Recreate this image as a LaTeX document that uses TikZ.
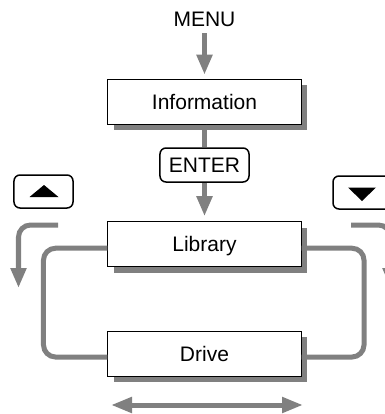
\documentclass[tikz,border=0pt]{standalone}
\usepackage{fontspec}
\setmainfont{Liberation Sans}
\usetikzlibrary{arrows.meta,shadows,calc}
\definecolor{lg}{HTML}{808080}
\tikzset{
  flow/.style={draw=lg, line width=5bp},
  tip/.style={-{Triangle[length=20bp,width=15bp]}},
  lbl/.style={inner sep=0pt, text height=15bp, text depth=0pt, font=\fontsize{21bp}{25bp}\selectfont},
  menubox/.style={lbl, draw=black, line width=1bp, fill=white, minimum width=193bp, minimum height=45bp,
    drop shadow={shadow xshift=6bp, shadow yshift=-6bp, fill=lg, opacity=1}},
  keybox/.style={lbl, draw=black, line width=1.5bp, rounded corners=6bp, fill=white},
}
\begin{document}
\begin{tikzpicture}[x=1bp,y=-1bp]
\useasboundingbox (0,0) rectangle (385,414);
% nodes
\node[lbl] (menu) at (204.5,18.5) {MENU};
\node[menubox] (info) at (204.5,101.7) {Information};
\node[keybox, minimum width=89bp, minimum height=34bp] (enter) at (204.5,165) {ENTER};
\node[menubox] (lib) at (204.5,244.2) {Library};
\node[menubox] (drive) at (204.5,353.5) {Drive};
\node[keybox, minimum width=59bp, minimum height=33bp] (upkey) at (43.5,191.5) {};
\node[keybox, minimum width=59bp, minimum height=33bp] (downkey) at (362.5,192.5) {};
% key glyphs
\fill ($(upkey.center)+(-14,5.5)$) -- ($(upkey.center)+(15,5.5)$) -- ($(upkey.center)+(0.5,-6.5)$) -- cycle;
\fill ($(downkey.center)+(-14.5,-5)$) -- ($(downkey.center)+(13.5,-5)$) -- ($(downkey.center)+(-0.5,8.5)$) -- cycle;
% main flow
\draw[flow,tip,shorten <=7bp,shorten >=4bp] (menu.south) -- (info.north);
\draw[flow] (info.south) -- (enter.north);
\draw[flow,tip,shorten >=5bp] (enter.south) -- (lib.north);
% loop
\draw[flow, rounded corners=12bp] ([yshift=-4bp]lib.west) -- ++(-64,0) -- ++(0,108.8) -- ([yshift=-3.5bp]drive.west);
\draw[flow, rounded corners=12bp] ([yshift=-4bp]lib.east) -- ++(62.5,0) -- ++(0,108.8) -- ([yshift=-3.5bp]drive.east);
% side arrows
\coordinate (ls) at (58,225);
\coordinate (le) at (18.5,288);
\coordinate (rs) at (351,225);
\coordinate (re) at (390.5,288);
\draw[flow,tip,rounded corners=12bp] (ls) -| (le);
\draw[flow,tip,rounded corners=12bp] (rs) -| (re);
% bottom double arrow
\coordinate (bl) at (111,405);
\coordinate (br) at (303,405);
\draw[flow,{Triangle[length=21bp,width=15bp]}-{Triangle[length=21bp,width=15bp]}] (bl) -- (br);
\end{tikzpicture}
\end{document}
